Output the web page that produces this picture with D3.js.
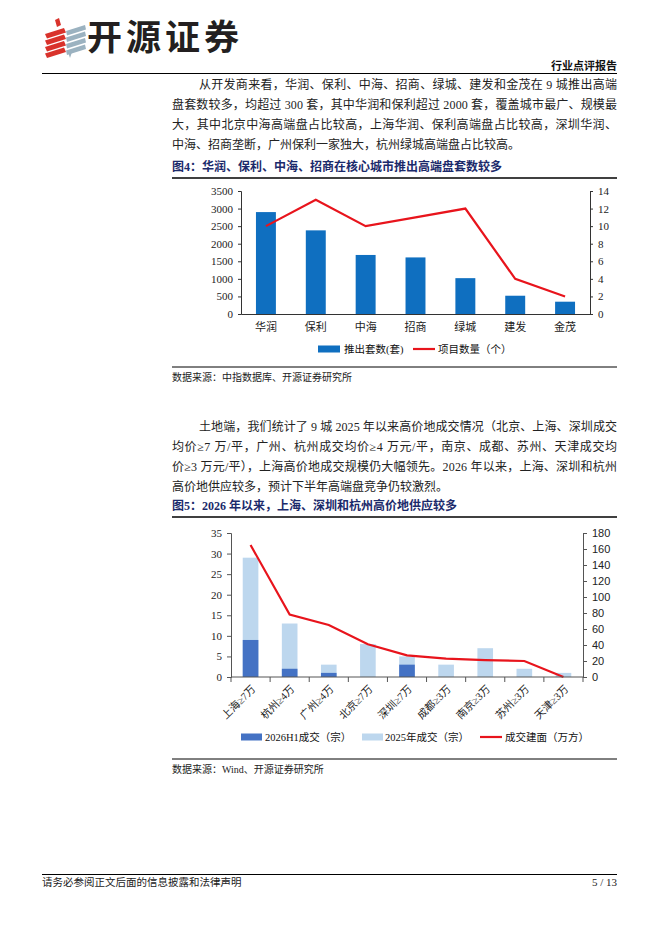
<!DOCTYPE html>
<html lang="zh">
<head>
<meta charset="UTF-8">
<title>开源证券 行业点评报告</title>
<script src="https://d3js.org/d3.v7.min.js"></script>
<style>
    body { margin: 0; background: #fff; }
    svg text { font-family: "Liberation Serif", "Noto Sans CJK SC", serif; fill: #111; }
</style>
</head>
<body>
<svg id="page" width="662" height="936"></svg>
<script>
// 图4 数据
const developers = ["华润", "保利", "中海", "招商", "绿城", "建发", "金茂"];
const launchedSets = [2900, 2380, 1680, 1610, 1020, 520, 350];
const projectCounts = [10, 13, 10, 11, 12, 4, 2];
const fig4LeftTicks = [0, 500, 1000, 1500, 2000, 2500, 3000, 3500];
const fig4RightTicks = [0, 2, 4, 6, 8, 10, 12, 14];

// 图5 数据
const cities = ["上海≥7万", "杭州≥4万", "广州≥4万", "北京≥7万", "深圳≥7万", "成都≥3万", "南京≥3万", "苏州≥3万", "天津≥3万"];
const deals2026H1 = [9, 2, 1, 0, 3, 0, 0, 0, 0];
const deals2025 = [29, 13, 3, 8, 5, 3, 7, 2, 1];
const dealArea = [165, 78, 65, 41, 27, 23, 21, 20, 0];
const fig5LeftTicks = [0, 5, 10, 15, 20, 25, 30, 35];
const fig5RightTicks = [0, 20, 40, 60, 80, 100, 120, 140, 160, 180];

const para1 = [
    "从开发商来看，华润、保利、中海、招商、绿城、建发和金茂在 9 城推出高端",
    "盘套数较多，均超过 300 套，其中华润和保利超过 2000 套，覆盖城市最广、规模最",
    "大，其中北京中海高端盘占比较高，上海华润、保利高端盘占比较高，深圳华润、",
    "中海、招商垄断，广州保利一家独大，杭州绿城高端盘占比较高。"
];
const para2 = [
    "土地端，我们统计了 9 城 2025 年以来高价地成交情况（北京、上海、深圳成交",
    "均价≥7 万/平，广州、杭州成交均价≥4 万元/平，南京、成都、苏州、天津成交均",
    "价≥3 万元/平），上海高价地成交规模仍大幅领先。2026 年以来，上海、深圳和杭州",
    "高价地供应较多，预计下半年高端盘竞争仍较激烈。"
];

const svg = d3.select("#page");
const LEFT = 172, RIGHT = 617;
const RED = "#e8141c";
const fmt = d3.format("d");

// ---------- header ----------
const logo = svg.append("g");
const stripes = [0, 1, 2, 3];
stripes.forEach(i => {
    const y = 29 + i * 6.5;
    logo.append("path")
        .attr("d", `M45,${y + 5} L64,${y - 1} L66,${y + 3.5} L47,${y + 9.5} Z`)
        .attr("fill", "#d9322b");
});
logo.append("path").attr("d", "M55,20 L59,18 L61,25 L57,27 Z").attr("fill", "#d9322b");
stripes.forEach(i => {
    const y = 26 + i * 6.5;
    logo.append("path")
        .attr("d", `M66,${y + 5} L85,${y - 1} L86,${y + 3.5} L67,${y + 9.5} Z`)
        .attr("fill", "#9bb2c0");
});
logo.append("path").attr("d", "M68,52 L72,52 L70,58 Z").attr("fill", "#9bb2c0");

svg.append("text")
    .attr("x", 87).attr("y", 50)
    .style("font-family", "'Noto Sans CJK SC', sans-serif")
    .style("font-weight", 700).style("font-size", "35px")
    .style("letter-spacing", "4px").style("fill", "#231f20")
    .text("开源证券");

svg.append("text")
    .attr("x", RIGHT).attr("y", 70).attr("text-anchor", "end")
    .style("font-family", "'Noto Sans CJK SC', sans-serif")
    .style("font-weight", 700).style("font-size", "11px")
    .text("行业点评报告");
svg.append("line").attr("x1", 42).attr("x2", RIGHT).attr("y1", 73.5).attr("y2", 73.5)
    .attr("stroke", "#000").attr("stroke-width", 1.2);

// ---------- paragraphs ----------
function paragraph(lines, top) {
    lines.forEach((t, i) => {
        const x = i === 0 ? LEFT + 27 : LEFT;
        const el = svg.append("text")
            .attr("x", x).attr("y", top + i * 20)
            .style("font-size", "12px").style("fill", "#222")
            .text(t);
        if (i < lines.length - 1) {
            el.attr("textLength", RIGHT - x).attr("lengthAdjust", "spacing");
        }
    });
}
paragraph(para1, 89);
paragraph(para2, 431);

function figTitle(t, y) {
    svg.append("text").attr("x", LEFT).attr("y", y)
        .style("font-weight", 700).style("font-size", "12px").style("fill", "#1b2a6b")
        .text(t);
    svg.append("line").attr("x1", LEFT).attr("x2", RIGHT).attr("y1", y + 7).attr("y2", y + 7)
        .attr("stroke", "#000").attr("stroke-width", 1.5);
}
function source(t, y) {
    svg.append("line").attr("x1", LEFT).attr("x2", RIGHT).attr("y1", y).attr("y2", y)
        .attr("stroke", "#000").attr("stroke-width", 1);
    svg.append("text").attr("x", LEFT).attr("y", y + 14)
        .style("font-size", "10px").style("fill", "#222").text(t);
}

// ---------- 图4 ----------
figTitle("图4：华润、保利、中海、招商在核心城市推出高端盘套数较多", 171);
{
    const x0 = 241, x1 = 590, yTop = 191, yBot = 314;
    const band = d3.scaleBand().domain(developers).range([x0, x1]);
    const yL = d3.scaleLinear().domain([0, 3500]).range([yBot, yTop]);
    const yR = d3.scaleLinear().domain([0, 14]).range([yBot, yTop]);
    const g = svg.append("g");

    g.selectAll("rect.bar").data(developers).join("rect")
        .attr("x", d => band(d) + band.bandwidth() * 0.3)
        .attr("width", band.bandwidth() * 0.4)
        .attr("y", (d, i) => yL(launchedSets[i]))
        .attr("height", (d, i) => yBot - yL(launchedSets[i]))
        .attr("fill", "#0f6fc0");

    const line = d3.line()
        .x((d, i) => band(developers[i]) + band.bandwidth() / 2)
        .y(d => yR(d));
    g.append("path").datum(projectCounts).attr("d", line)
        .attr("fill", "none").attr("stroke", RED).attr("stroke-width", 2.2);

    const axL = g.append("g").attr("transform", `translate(${x0},0)`)
        .call(d3.axisLeft(yL).tickValues(fig4LeftTicks).tickFormat(fmt).tickSize(3).tickPadding(5));
    const axR = g.append("g").attr("transform", `translate(${x1},0)`)
        .call(d3.axisRight(yR).tickValues(fig4RightTicks).tickFormat(fmt).tickSize(3).tickPadding(5));
    const axB = g.append("g").attr("transform", `translate(0,${yBot})`)
        .call(d3.axisBottom(band).tickSize(0).tickPadding(9));
    [axL, axR, axB].forEach(a => {
        a.selectAll("path,line").attr("stroke", "#333");
        a.selectAll("text").style("font-size", "11px").style("fill", "#222")
            .style("font-family", "'Liberation Serif','Noto Sans CJK SC',serif");
    });

    // legend
    const ly = 349;
    g.append("rect").attr("x", 318).attr("y", ly - 3.5).attr("width", 22).attr("height", 7).attr("fill", "#0f6fc0");
    g.append("text").attr("x", 344).attr("y", ly + 4).style("font-size", "10.5px").text("推出套数(套)");
    g.append("line").attr("x1", 413).attr("x2", 435).attr("y1", ly).attr("y2", ly)
        .attr("stroke", RED).attr("stroke-width", 2.2);
    g.append("text").attr("x", 438).attr("y", ly + 4).style("font-size", "10.5px").text("项目数量（个）");
}
source("数据来源：中指数据库、开源证券研究所", 367);

// ---------- 图5 ----------
figTitle("图5：2026 年以来，上海、深圳和杭州高价地供应较多", 510);
{
    const x0 = 231, x1 = 583, yTop = 533, yBot = 677;
    const band = d3.scaleBand().domain(cities).range([x0, x1]);
    const yL = d3.scaleLinear().domain([0, 35]).range([yBot, yTop]);
    const yR = d3.scaleLinear().domain([0, 180]).range([yBot, yTop]);
    const g = svg.append("g");
    const bw = band.bandwidth() * 0.4;

    g.selectAll("rect.y25").data(cities).join("rect")
        .attr("x", d => band(d) + band.bandwidth() * 0.3).attr("width", bw)
        .attr("y", (d, i) => yL(deals2025[i]))
        .attr("height", (d, i) => yBot - yL(deals2025[i]))
        .attr("fill", "#bdd7ee");
    g.selectAll("rect.h1").data(cities).join("rect")
        .attr("x", d => band(d) + band.bandwidth() * 0.3).attr("width", bw)
        .attr("y", (d, i) => yL(deals2026H1[i]))
        .attr("height", (d, i) => yBot - yL(deals2026H1[i]))
        .attr("fill", "#4472c4");

    const line = d3.line()
        .x((d, i) => band(cities[i]) + band.bandwidth() / 2)
        .y(d => yR(d));
    g.append("path").datum(dealArea).attr("d", line)
        .attr("fill", "none").attr("stroke", RED).attr("stroke-width", 2.2);

    const axL = g.append("g").attr("transform", `translate(${x0},0)`)
        .call(d3.axisLeft(yL).tickValues(fig5LeftTicks).tickFormat(fmt).tickSize(4).tickPadding(5));
    const axR = g.append("g").attr("transform", `translate(${x1},0)`)
        .call(d3.axisRight(yR).tickValues(fig5RightTicks).tickFormat(fmt).tickSize(4).tickPadding(5));
    [axL, axR].forEach(a => {
        a.selectAll("path,line").attr("stroke", "#555");
        a.selectAll("text").style("font-size", "11px").style("fill", "#222");
    });
    axL.selectAll("text").style("font-family", "'Liberation Serif',serif");
    axR.selectAll("text").style("font-family", "'Liberation Sans',sans-serif");

    // x axis with boundary ticks
    const axB = g.append("g").attr("transform", `translate(0,${yBot})`);
    axB.append("line").attr("x1", x0).attr("x2", x1).attr("stroke", "#555");
    axB.selectAll("line.tk").data(d3.range(cities.length + 1)).join("line")
        .attr("x1", i => x0 + i * band.step()).attr("x2", i => x0 + i * band.step())
        .attr("y1", 0).attr("y2", 5).attr("stroke", "#555");
    axB.selectAll("text").data(cities).join("text")
        .attr("transform", d => `translate(${band(d) + band.bandwidth() / 2 + 3},10) rotate(-45)`)
        .attr("text-anchor", "end").attr("dy", "0.35em")
        .style("font-size", "10.5px").style("fill", "#222")
        .text(d => d);

    const ly = 737;
    g.append("rect").attr("x", 241).attr("y", ly - 3.5).attr("width", 21).attr("height", 7).attr("fill", "#4472c4");
    g.append("text").attr("x", 265).attr("y", ly + 4).style("font-size", "10.5px").text("2026H1成交（宗）");
    g.append("rect").attr("x", 362).attr("y", ly - 3.5).attr("width", 21).attr("height", 7).attr("fill", "#bdd7ee");
    g.append("text").attr("x", 385).attr("y", ly + 4).style("font-size", "10.5px").text("2025年成交（宗）");
    g.append("line").attr("x1", 480).attr("x2", 502).attr("y1", ly).attr("y2", ly)
        .attr("stroke", RED).attr("stroke-width", 2.2);
    g.append("text").attr("x", 505).attr("y", ly + 4).style("font-size", "10.5px").text("成交建面（万方）");
}
source("数据来源：Wind、开源证券研究所", 759);

// ---------- footer ----------
svg.append("line").attr("x1", 42).attr("x2", RIGHT).attr("y1", 874.5).attr("y2", 874.5)
    .attr("stroke", "#000").attr("stroke-width", 1);
svg.append("text").attr("x", 42).attr("y", 886).style("font-size", "10.5px").style("fill", "#222")
    .text("请务必参阅正文后面的信息披露和法律声明");
svg.append("text").attr("x", RIGHT).attr("y", 886).attr("text-anchor", "end")
    .style("font-size", "11px").style("fill", "#222").text("5 / 13");
</script>
</body>
</html>
